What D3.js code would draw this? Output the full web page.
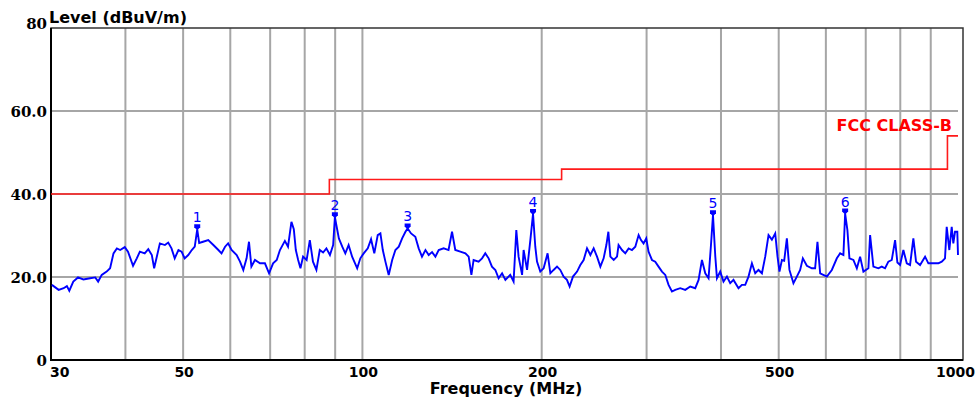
<!DOCTYPE html>
<html>
<head>
<meta charset="utf-8">
<script src="https://cdn.jsdelivr.net/npm/d3@7"></script>
<style>
  body { margin: 0; background: #fff; }
  svg { display: block; }
</style>
</head>
<body>
<svg id="chart" width="978" height="400"></svg>
<script>
// Scan trace (MHz, dBuV/m)
const scanFreq = [
  30.1, 30.5, 30.9, 31.5, 31.9, 32.2, 32.7, 33.3, 34.0, 34.9,
  35.6, 36.0, 36.5, 37.2, 37.7, 38.2, 38.7, 39.2, 39.9, 40.4,
  41.2, 41.8, 42.3, 43.1, 43.7, 44.3, 44.7, 45.1, 45.7, 46.6,
  47.2, 47.8, 48.4, 49.1, 49.7, 50.3, 51.0, 51.7, 52.3, 52.8,
  53.2, 54.0, 55.1, 56.2, 57.3, 58.0, 58.8, 59.5, 60.3, 61.5,
  62.3, 63.1, 63.9, 64.5, 65.1, 66.0, 67.3, 68.6, 69.7, 70.8,
  71.8, 72.7, 74.1, 75.0, 76.0, 76.7, 77.3, 78.0, 78.7, 79.5,
  80.6, 81.6, 82.6, 83.7, 84.8, 85.9, 87.0, 88.2, 89.3, 89.9,
  91.3, 92.5, 93.6, 94.8, 96.1, 98.0, 99.2, 100.5, 102.1, 103.4,
  104.7, 106.1, 107.2, 108.2, 109.3, 110.7, 112.2, 113.6, 115.1, 116.6,
  118.1, 119.1, 120.7, 122.7, 124.3, 125.9, 127.6, 129.2, 130.9, 132.6,
  134.3, 136.9, 139.5, 141.4, 143.2, 146.0, 148.9, 150.8, 152.4, 153.7,
  156.7, 158.8, 160.8, 162.9, 165.0, 167.2, 169.3, 171.6, 173.8, 177.1,
  179.4, 181.3, 182.9, 185.4, 186.5, 189.0, 191.4, 193.4, 195.1, 196.4,
  198.9, 201.5, 204.6, 206.8, 209.4, 212.2, 214.9, 217.7, 220.5, 222.8,
  225.7, 229.3, 232.2, 235.2, 238.3, 241.4, 244.5, 247.7, 250.9, 254.1,
  256.8, 258.8, 260.8, 264.2, 267.6, 269.2, 272.8, 276.3, 279.9, 283.5,
  287.2, 290.9, 293.6, 296.5, 299.6, 302.3, 306.3, 310.2, 314.2, 318.4,
  322.5, 326.6, 330.9, 335.2, 341.7, 348.4, 355.2, 362.1, 366.8, 371.6,
  376.4, 381.2, 384.8, 387.8, 391.3, 393.8, 398.8, 403.9, 409.3, 414.5,
  419.8, 428.0, 433.7, 439.3, 444.9, 450.8, 456.6, 462.4, 468.6, 474.6,
  480.7, 487.0, 493.3, 497.7, 501.5, 506.2, 510.7, 516.0, 521.2, 529.3,
  536.3, 543.2, 548.9, 557.5, 568.3, 575.6, 580.8, 586.9, 602.3, 614.0,
  626.0, 634.0, 642.1, 646.4, 652.1, 657.2, 667.4, 676.3, 684.9, 693.7,
  707.2, 711.9, 721.0, 735.1, 744.7, 754.3, 764.0, 774.1, 784.1, 791.1,
  799.4, 809.6, 820.3, 830.8, 841.5, 850.3, 863.6, 880.5, 891.8, 909.2,
  926.9, 939.1, 951.0, 957.3, 967.0, 976.0, 982.1, 988.5, 997.3, 1000
];
const scanLevel = [
  18.1, 17.5, 16.9, 17.3, 17.8, 16.7, 18.9, 19.9, 19.4, 19.7,
  19.9, 18.9, 20.5, 21.3, 22.1, 25.7, 26.9, 26.5, 27.2, 26.1,
  22.7, 24.5, 26.1, 25.7, 26.7, 25.3, 22.1, 24.5, 28.1, 27.7,
  28.3, 26.9, 24.5, 26.5, 26.1, 24.5, 25.3, 26.5, 27.3, 31.5,
  28.2, 28.5, 28.9, 27.7, 26.5, 25.7, 27.3, 28.1, 26.5, 25.3,
  23.7, 21.7, 24.5, 28.5, 22.5, 24.1, 23.3, 23.3, 20.9, 23.3,
  24.1, 26.5, 28.7, 27.3, 33.3, 31.5, 26.5, 24.1, 22.1, 24.9,
  24.1, 28.9, 23.7, 21.7, 26.5, 25.9, 26.9, 25.3, 27.7, 34.4,
  29.3, 27.3, 25.7, 27.7, 24.9, 22.1, 24.5, 25.7, 26.9, 29.1,
  25.7, 30.1, 30.5, 26.5, 23.7, 20.5, 24.1, 26.5, 27.3, 29.3,
  30.9, 31.7, 30.5, 29.7, 26.9, 24.9, 26.5, 25.3, 26.0, 24.9,
  26.5, 26.9, 26.5, 30.9, 26.5, 26.1, 25.7, 24.9, 20.5, 24.1,
  23.7, 24.5, 25.7, 24.5, 22.5, 21.7, 19.7, 20.9, 19.3, 20.5,
  18.9, 31.3, 24.9, 20.5, 26.5, 21.7, 28.9, 35.2, 27.3, 23.7,
  21.3, 22.1, 25.7, 20.9, 21.7, 22.5, 21.7, 20.1, 19.3, 17.7,
  20.1, 21.3, 22.9, 24.1, 26.9, 25.3, 26.9, 24.9, 22.5, 24.5,
  27.7, 30.9, 24.9, 24.1, 24.9, 27.7, 26.5, 25.7, 26.9, 26.5,
  27.3, 30.1, 28.9, 28.1, 29.3, 26.1, 24.1, 23.7, 22.5, 21.3,
  20.5, 18.1, 16.5, 16.9, 17.3, 16.9, 17.7, 17.3, 19.3, 24.1,
  20.9, 19.7, 27.7, 34.9, 24.9, 19.7, 21.3, 18.9, 20.1, 18.5,
  19.3, 17.3, 18.1, 18.1, 20.1, 23.3, 20.9, 21.7, 20.9, 24.9,
  30.1, 29.0, 30.5, 24.9, 21.3, 24.1, 23.9, 29.3, 21.7, 18.5,
  20.1, 21.7, 24.5, 22.7, 22.1, 22.1, 28.5, 20.9, 20.1, 21.7,
  24.5, 25.7, 25.3, 35.3, 31.3, 24.5, 24.1, 22.1, 24.9, 21.3,
  22.1, 30.1, 22.5, 22.1, 22.5, 22.1, 23.7, 24.1, 28.9, 23.5,
  22.9, 26.5, 23.3, 22.9, 29.3, 23.7, 22.9, 24.9, 23.3, 23.3,
  23.3, 23.7, 24.5, 32.1, 26.5, 32.1, 28.1, 30.9, 30.9, 25.3
];

// FCC class B limit steps
const limitFreq = [30, 88, 88, 216, 216, 960, 960, 1000];
const limitLevel = [40, 40, 43.5, 43.5, 46, 46, 54, 54];

// Peak markers
const markerLabel = ['1', '2', '3', '4', '5', '6'];
const markerFreq = [52.8, 89.9, 119.1, 193.4, 387.8, 646.4];
const markerLevel = [31.5, 34.4, 31.7, 35.2, 34.9, 35.3];

// Axis ticks
const gridFreq = [40, 50, 60, 70, 80, 90, 100, 200, 300, 400, 500, 600, 700, 800, 900];
const freqTicks = [30, 50, 100, 200, 500, 1000];
const levelTicks = [0, 20, 40, 60, 80];
const levelTickText = ['0', '20.0', '40.0', '60.0', '80'];

const conf = {
  left: 51, right: 958, frameRight: 963,
  top: 28, bottom: 360
};

const svg = d3.select('#chart');

const x = d3.scaleLog()
  .domain([30, 1000])
  .range([conf.left, conf.right]);

const y = d3.scaleLinear()
  .domain([0, 80])
  .range([conf.bottom, conf.top]);

const sans = 'DejaVu Sans, Verdana, sans-serif';

// Grid
const grid = svg.append('g')
  .attr('stroke', '#a6a6a6')
  .attr('stroke-width', 2);

grid.selectAll('.vgrid')
  .data(gridFreq)
.enter().append('line')
  .attr('class', 'vgrid')
  .attr('x1', d => x(d)).attr('x2', d => x(d))
  .attr('y1', conf.top).attr('y2', conf.bottom);

grid.selectAll('.hgrid')
  .data([20, 40, 60])
.enter().append('line')
  .attr('class', 'hgrid')
  .attr('x1', conf.left).attr('x2', conf.right)
  .attr('y1', d => y(d)).attr('y2', d => y(d));

// Frame
svg.append('rect')
  .attr('x', conf.left).attr('y', conf.top)
  .attr('width', conf.frameRight - conf.left)
  .attr('height', conf.bottom - conf.top)
  .attr('fill', 'none')
  .attr('stroke', '#333')
  .attr('stroke-width', 1.5);

svg.append('path')
  .attr('d', `M${conf.left},${conf.top}V${conf.bottom}H${conf.frameRight}`)
  .attr('fill', 'none')
  .attr('stroke', '#000')
  .attr('stroke-width', 2);

// Limit line
const line = d3.line()
  .x(d => x(d[0]))
  .y(d => y(d[1]));

svg.append('path')
  .datum(d3.zip(limitFreq, limitLevel))
  .attr('d', line)
  .attr('fill', 'none')
  .attr('stroke', '#ff1a1a')
  .attr('stroke-width', 1.6);

svg.append('text')
  .attr('x', 952).attr('y', 131)
  .attr('text-anchor', 'end')
  .attr('font-family', sans)
  .attr('font-weight', 'bold')
  .attr('font-size', 16)
  .attr('fill', '#ff0000')
  .text('FCC CLASS-B');

// Scan trace
svg.append('path')
  .datum(d3.zip(scanFreq, scanLevel))
  .attr('d', line)
  .attr('fill', 'none')
  .attr('stroke', '#0000ff')
  .attr('stroke-width', 1.9)
  .attr('stroke-linejoin', 'miter');

// Markers
const marks = svg.append('g').selectAll('g')
  .data(d3.range(markerFreq.length))
.enter().append('g')
  .attr('transform', i => `translate(${x(markerFreq[i])},${y(markerLevel[i])})`);

marks.append('path')
  .attr('d', 'M-3,-5H3V-2L0,1L-3,-2Z')
  .attr('fill', '#0000ff');

marks.append('text')
  .attr('y', -7)
  .attr('text-anchor', 'middle')
  .attr('font-family', sans)
  .attr('font-size', 14)
  .attr('fill', '#0000ff')
  .text(i => markerLabel[i]);

// Y tick labels
svg.selectAll('.ylab')
  .data(levelTicks)
.enter().append('text')
  .attr('class', 'ylab')
  .attr('x', 47)
  .attr('y', d => d === 80 ? y(d) + 1 : y(d) + 5.5)
  .attr('text-anchor', 'end')
  .attr('font-family', 'DejaVu Serif, serif')
  .attr('font-weight', 'bold')
  .attr('font-size', 15)
  .text((d, i) => levelTickText[i]);

// X tick labels
svg.selectAll('.xlab')
  .data(freqTicks)
.enter().append('text')
  .attr('class', 'xlab')
  .attr('x', d => d === 30 ? conf.left - 1 : d === 1000 ? 975 : x(d) + 1)
  .attr('y', 377)
  .attr('text-anchor', d => d === 30 ? 'start' : d === 1000 ? 'end' : 'middle')
  .attr('font-family', sans)
  .attr('font-weight', 'bold')
  .attr('font-size', 14)
  .text(d => d);

// Axis titles
svg.append('text')
  .attr('x', 49).attr('y', 23)
  .attr('font-family', sans)
  .attr('font-weight', 'bold')
  .attr('font-size', 16)
  .text('Level (dBuV/m)');

svg.append('text')
  .attr('x', 506).attr('y', 394)
  .attr('text-anchor', 'middle')
  .attr('font-family', sans)
  .attr('font-weight', 'bold')
  .attr('font-size', 16)
  .text('Frequency (MHz)');
</script>
</body>
</html>
